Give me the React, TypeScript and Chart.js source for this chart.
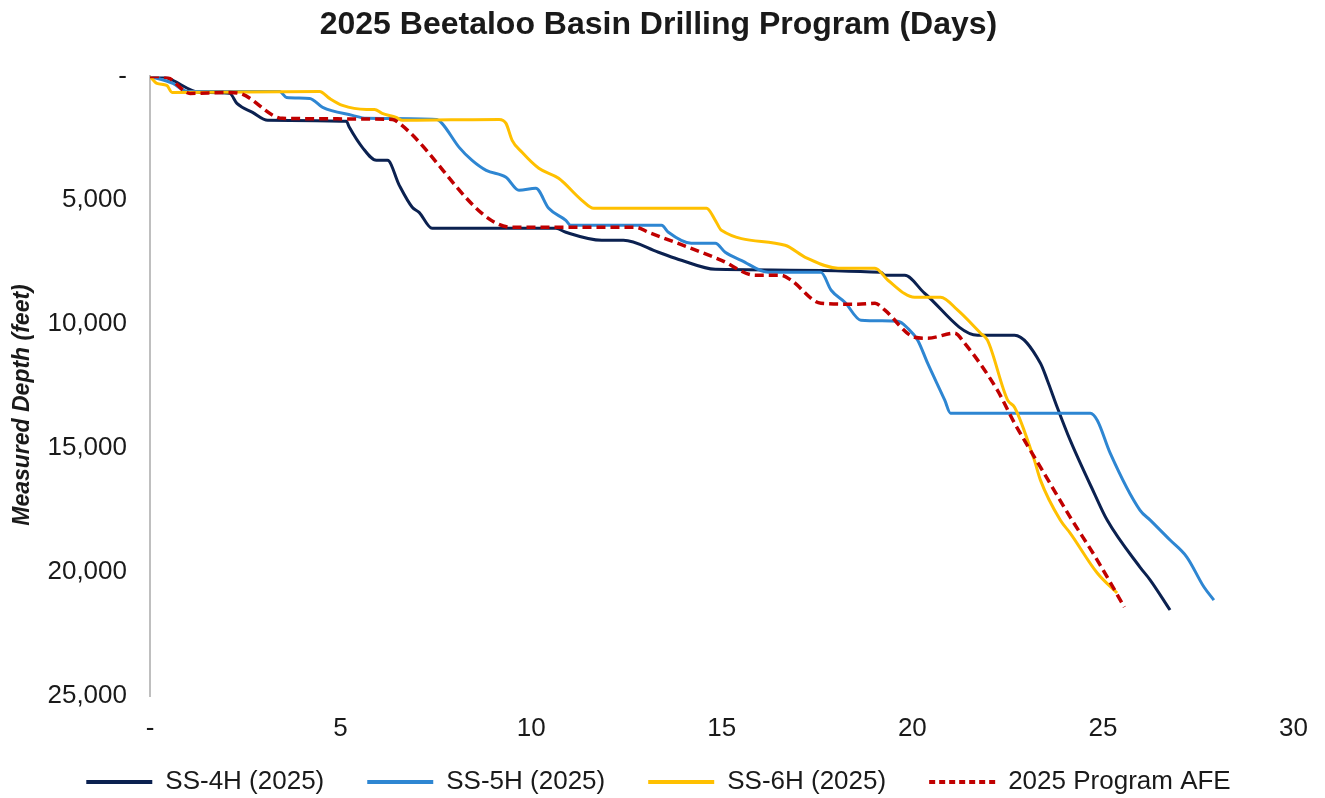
import React, { useEffect, useRef } from "react";
import { Chart, registerables } from "chart.js";

Chart.register(...registerables);

const title = "2025 Beetaloo Basin Drilling Program (Days)";
const yAxisTitle = "Measured Depth (feet)";
const xTicks = [0, 5, 10, 15, 20, 25, 30];
const yTicks = [0, 5000, 10000, 15000, 20000, 25000];

const ss4hDays = [0, 0.39, 1.31, 2.09, 2.28, 2.69, 3.09, 5.15, 5.23, 5.57, 5.94, 6.23, 6.54, 6.88, 7.06, 7.4, 10.65, 10.91, 11.85, 12.42, 13.34, 13.94, 14.83, 19.17, 19.28, 19.8, 20.32, 21.71, 22.68, 23.36, 23.54, 23.8, 24.14, 24.77, 25.11, 25.97, 26.24, 26.76];
const ss4hDepth = [0, 40, 645, 685, 1089, 1452, 1774, 1814, 2056, 2863, 3387, 3387, 4395, 5282, 5484, 6129, 6129, 6290, 6612, 6612, 7096, 7419, 7782, 7903, 8024, 8024, 8749, 10443, 10443, 11572, 12257, 13346, 14677, 16813, 17902, 19797, 20321, 21531];

const ss5hDays = [0, 0.6, 0.97, 3.4, 3.58, 4.19, 4.53, 5.31, 5.68, 7.51, 7.66, 8.11, 8.45, 8.82, 9.34, 9.68, 10.12, 10.46, 10.91, 11.04, 13.42, 13.6, 14.2, 14.83, 15.09, 15.51, 16.22, 17.6, 17.87, 18.23, 18.65, 19.62, 19.88, 20.14, 20.4, 20.85, 21.0, 24.67, 24.85, 25.19, 25.97, 26.24, 26.76, 27.2, 27.65, 27.91];
const ss5hDepth = [0, 282, 605, 605, 847, 887, 1250, 1572, 1693, 1734, 1895, 2863, 3387, 3790, 4072, 4597, 4516, 5322, 5806, 6008, 6008, 6290, 6733, 6733, 7096, 7419, 7903, 7903, 8628, 9112, 9838, 9878, 10161, 10644, 11572, 13064, 13588, 13588, 13870, 15200, 17499, 17902, 18708, 19394, 20604, 21128];

const ss6hDays = [0, 0.18, 0.44, 0.58, 4.45, 4.71, 5.05, 5.68, 5.89, 6.09, 6.46, 6.62, 9.16, 9.34, 9.5, 9.76, 10.2, 10.72, 11.33, 11.64, 14.6, 14.83, 14.99, 16.66, 17.19, 18.05, 19.02, 19.36, 20.06, 20.74, 21.19, 21.79, 21.97, 22.5, 22.68, 23.2, 23.36, 23.88, 24.14, 24.85, 25.37];
const ss6hDepth = [0, 282, 363, 645, 605, 887, 1169, 1331, 1331, 1492, 1653, 1774, 1734, 1895, 2580, 3064, 3709, 4113, 5000, 5322, 5322, 5806, 6209, 6814, 7298, 7741, 7741, 8225, 8911, 8911, 9435, 10362, 10644, 13064, 13346, 15483, 16289, 17902, 18426, 20039, 20845];

const afeDays = [0, 0.44, 1.05, 2.01, 2.35, 3.48, 6.36, 6.54, 9.5, 12.74, 13.08, 14.99, 15.88, 16.56, 16.82, 17.6, 18.57, 19.02, 19.28, 20.06, 20.4, 21.11, 21.37, 22.23, 22.68, 23.36, 24.14, 24.85, 25.56];
const afeDepth = [0, 40, 685, 645, 685, 1693, 1734, 1895, 6088, 6088, 6290, 7419, 8024, 8024, 8225, 9153, 9193, 9153, 9435, 10524, 10564, 10362, 10765, 12661, 13991, 15765, 17781, 19515, 21410];

const seriesNames = ["SS-4H (2025)", "SS-5H (2025)", "SS-6H (2025)", "2025 Program AFE"];
const seriesColors = ["#0B2150", "#2E86D2", "#FFC000", "#C00000"];

const toPoints = (xs: number[], ys: number[]) => xs.map((x, i) => ({ x, y: ys[i] }));

const fmt = (v: number) => (v === 0 ? "-" : v.toLocaleString("en-US"));

const FONT = "'Liberation Sans', Arial, sans-serif";
const TEXT = "#1A1A1A";

const yTitlePlugin = {
  id: "yTitlePlugin",
  beforeDraw(chart: any) {
    // let the x tick labels extend below the (short) x-axis box without clipping
    const sx = chart.scales.x;
    if (sx) sx._computeLabelArea = () => undefined;
  },
  afterDraw(chart: any) {
    const ctx = chart.ctx;
    ctx.save();
    ctx.translate(23, 405);
    ctx.rotate(-Math.PI / 2);
    ctx.font = `italic bold 23px ${FONT}`;
    ctx.fillStyle = TEXT;
    ctx.textAlign = "center";
    ctx.textBaseline = "middle";
    ctx.fillText(yAxisTitle, 0, 0);
    ctx.restore();
  },
};

export default function App() {
  const canvasRef = useRef<HTMLCanvasElement | null>(null);

  useEffect(() => {
    document.body.style.margin = "0";
    const canvas = canvasRef.current;
    if (!canvas) return;
    const seriesData = [
      toPoints(ss4hDays, ss4hDepth),
      toPoints(ss5hDays, ss5hDepth),
      toPoints(ss6hDays, ss6hDepth),
      toPoints(afeDays, afeDepth),
    ];
    const chart = new Chart(canvas, {
      type: "line",
      data: {
        datasets: seriesNames.map((name, i) => ({
          label: name,
          data: seriesData[i],
          borderColor: seriesColors[i],
          backgroundColor: seriesColors[i],
          borderWidth: i === 3 ? 3.5 : 3,
          borderDash: i === 3 ? [9, 5] : [],
          pointRadius: 0,
          fill: false,
          cubicInterpolationMode: "monotone" as const,
          order: i === 3 ? 0 : 4 - i,
        })),
      },
      plugins: [yTitlePlugin],
      options: {
        animation: false,
        responsive: false,
        maintainAspectRatio: false,
        layout: { padding: { left: 20, right: 28, top: 0, bottom: 0 } },
        plugins: {
          title: {
            display: true,
            text: title,
            color: TEXT,
            font: { family: FONT, size: 32, weight: "bold", lineHeight: 1.2 },
            padding: { top: 6, bottom: 32 },
          },
          legend: {
            display: true,
            position: "bottom",
            maxHeight: 72,
            labels: {
              color: TEXT,
              font: { family: FONT, size: 26 },
              usePointStyle: true,
              pointStyleWidth: 66,
              boxWidth: 66,
              boxHeight: 20,
              padding: 43,
              generateLabels: () =>
                seriesNames.map((name, i) => ({
                  text: name,
                  fillStyle: seriesColors[i],
                  strokeStyle: seriesColors[i],
                  lineWidth: 4,
                  lineDash: i === 3 ? [6, 4] : [],
                  pointStyle: "line",
                  fontColor: TEXT,
                  hidden: false,
                  datasetIndex: i,
                })),
            },
          },
          tooltip: { enabled: false },
        },
        scales: {
          x: {
            type: "linear",
            min: 0,
            max: 30,
            afterBuildTicks: (scale: any) => {
              scale.ticks = xTicks.map((v) => ({ value: v }));
            },
            ticks: {
              color: TEXT,
              font: { family: FONT, size: 26 },
              padding: 17,
              maxRotation: 0,
              callback: (v: any) => fmt(Number(v)),
            },
            grid: { display: false, drawTicks: false },
            border: { display: false },
            afterFit: (scale: any) => {
              scale.height = 30;
            },
          },
          y: {
            type: "linear",
            reverse: true,
            min: 0,
            max: 25000,
            afterBuildTicks: (scale: any) => {
              scale.ticks = yTicks.map((v) => ({ value: v }));
            },
            ticks: {
              color: TEXT,
              font: { family: FONT, size: 26 },
              padding: 23,
              callback: (v: any) => fmt(Number(v)),
            },
            grid: { display: false, drawTicks: false },
            border: { display: true, color: "#BFBFBF", width: 2 },
            afterFit: (scale: any) => {
              scale.width = 130;
            },
          },
        },
      },
    });
    return () => chart.destroy();
  }, []);

  return (
    <div style={{ position: "absolute", left: 0, top: 0, width: 1325, height: 798 }}>
      <canvas ref={canvasRef} width={1325} height={798} />
    </div>
  );
}
